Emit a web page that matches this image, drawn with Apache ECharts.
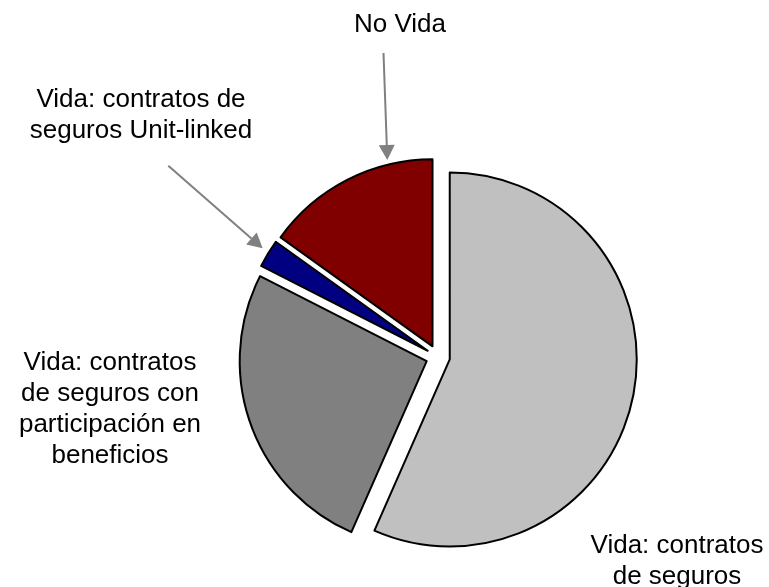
<!DOCTYPE html>
<html>
<head>
<meta charset="utf-8">
<script src="https://cdn.jsdelivr.net/npm/echarts@6/dist/echarts.min.js"></script>
<style>
html,body{margin:0;padding:0;background:#fff;}
#chart{width:769px;height:587px;}
</style>
</head>
<body>
<div id="chart"></div>
<script>
// Data (clockwise from 12 o'clock)
var categories = [
  'Vida: contratos\nde seguros',
  'Vida: contratos\nde seguros con\nparticipación en\nbeneficios',
  'Vida: contratos de\nseguros Unit-linked',
  'No Vida'
];
var values = [56.6, 25.9, 2.4, 15.1];
var colors = ['#C0C0C0', '#808080', '#000080', '#800000'];

// Label anchor positions (annotation layout, centre of text block)
var labelPos = [[677, 561], [110, 409], [141, 115], [400, 25]];
// Annotation arrows: [start, tip]
var arrows = [
  [[383.5, 53], [387.3, 160]],
  [[168.3, 165.7], [262.7, 248.3]]
];

function arrowGraphics(a) {
  var s = a[0], t = a[1];
  var dx = t[0] - s[0], dy = t[1] - s[1];
  var len = Math.sqrt(dx * dx + dy * dy);
  var ux = dx / len, uy = dy / len;
  var hl = 15, hw = 8;
  var bx = t[0] - ux * hl, by = t[1] - uy * hl;
  var px = -uy * hw, py = ux * hw;
  return [
    { type: 'line', shape: { x1: s[0], y1: s[1], x2: bx, y2: by },
      style: { stroke: '#808080', lineWidth: 2 }, silent: true },
    { type: 'polygon', shape: { points: [[t[0], t[1]], [bx + px, by + py], [bx - px, by - py]] },
      style: { fill: '#808080' }, silent: true }
  ];
}

var graphics = [];
arrows.forEach(function (a) { graphics = graphics.concat(arrowGraphics(a)); });
categories.forEach(function (name, i) {
  graphics.push({
    type: 'text',
    x: labelPos[i][0],
    y: labelPos[i][1],
    silent: true,
    style: {
      text: name,
      fill: '#000000',
      font: '26px "Liberation Sans", Arial, sans-serif',
      lineHeight: 31,
      align: 'center',
      verticalAlign: 'middle'
    }
  });
});

var data = categories.map(function (n, i) {
  return { name: n, value: values[i], selected: true, itemStyle: { color: colors[i] } };
});

var chart = echarts.init(document.getElementById('chart'), null, { renderer: 'canvas' });
chart.setOption({
  backgroundColor: '#ffffff',
  animation: false,
  graphic: graphics,
  series: [{
    type: 'pie',
    center: [438, 357],
    radius: 187,
    startAngle: 90,
    clockwise: true,
    selectedMode: 'multiple',
    selectedOffset: 12,
    itemStyle: { borderColor: '#000000', borderWidth: 2 },
    select: { itemStyle: { borderColor: '#000000', borderWidth: 2 } },
    emphasis: { disabled: true },
    label: { show: false },
    labelLine: { show: false },
    data: data
  }]
});
</script>
</body>
</html>
